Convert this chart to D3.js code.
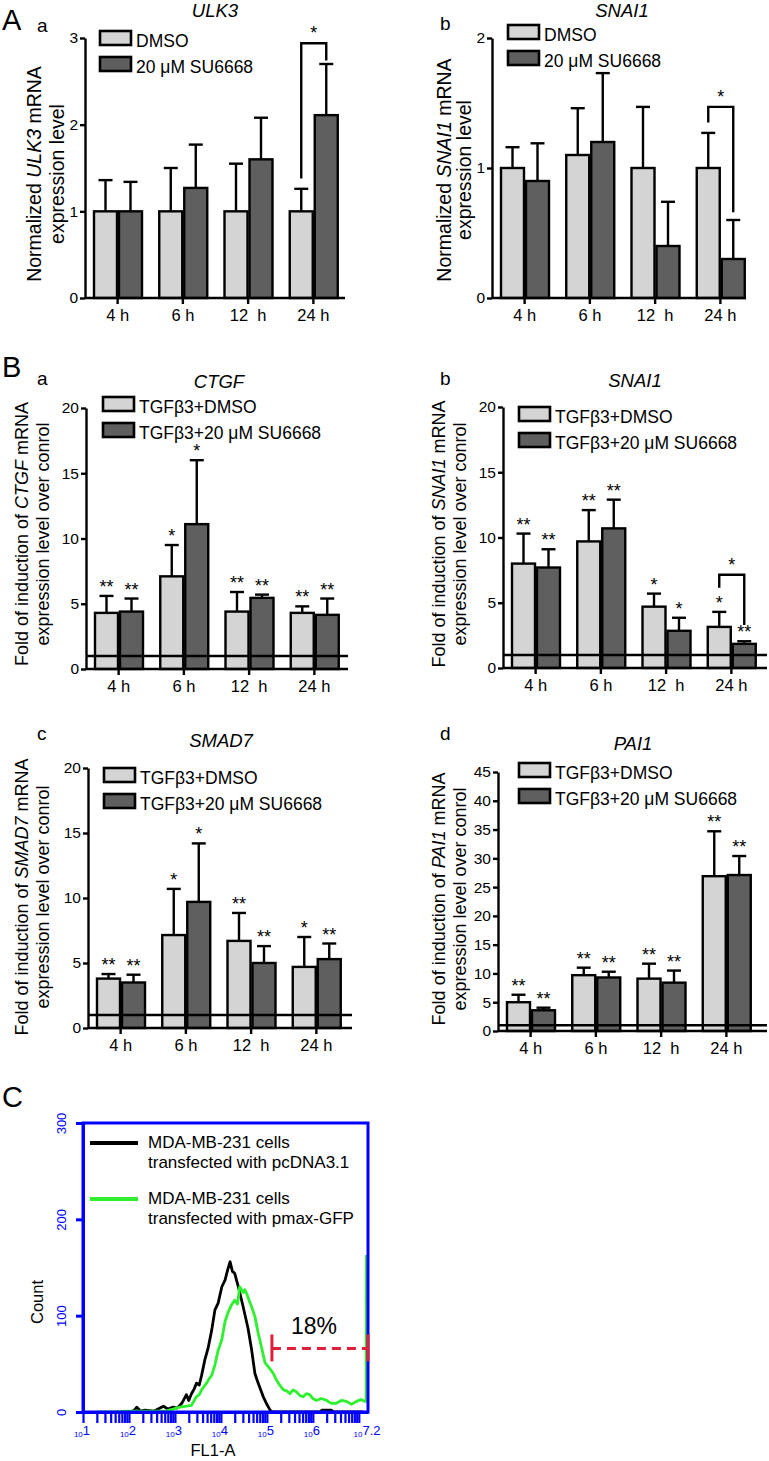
<!DOCTYPE html>
<html>
<head>
<meta charset="utf-8">
<script src="https://cdn.jsdelivr.net/npm/d3@7"></script>
<style>
  body { margin: 0; background: #fff; }
  svg { display: block; }
</style>
</head>
<body>
<div id="fig"></div>
<script>
// ---- data ----
const timePoints = ['4 h', '6 h', '12\u00a0\u00a0h', '24 h'];

// A a  ULK3
const ulk3Dmso = [1.0, 1.0, 1.0, 1.0];
const ulk3DmsoSd = [0.36, 0.50, 0.55, 0.26];
const ulk3Su = [1.0, 1.27, 1.60, 2.11];
const ulk3SuSd = [0.34, 0.50, 0.48, 0.59];

// A b  SNAI1
const snaiDmso = [1.0, 1.10, 1.0, 1.0];
const snaiDmsoSd = [0.16, 0.36, 0.47, 0.27];
const snaiSu = [0.90, 1.20, 0.40, 0.30];
const snaiSuSd = [0.29, 0.53, 0.34, 0.30];

// B a  CTGF
const ctgfDmso = [4.3, 7.1, 4.4, 4.3];
const ctgfDmsoSd = [1.3, 2.4, 1.5, 0.5];
const ctgfSu = [4.4, 11.1, 5.45, 4.15];
const ctgfSuSd = [1.0, 4.9, 0.25, 1.25];
const ctgfDmsoStars = ['**', '*', '**', '**'];
const ctgfSuStars = ['**', '*', '**', '**'];

// B b  SNAI1
const snaiTgfDmso = [8.0, 9.7, 4.7, 3.15];
const snaiTgfDmsoSd = [2.3, 2.4, 1.0, 1.15];
const snaiTgfSu = [7.7, 10.7, 2.85, 1.85];
const snaiTgfSuSd = [1.4, 2.2, 1.0, 0.2];
const snaiTgfDmsoStars = ['**', '**', '*', '*'];
const snaiTgfSuStars = ['**', '**', '*', '**'];

// B c  SMAD7
const smadDmso = [3.8, 7.15, 6.7, 4.7];
const smadDmsoSd = [0.35, 3.55, 2.15, 2.3];
const smadSu = [3.5, 9.7, 5.0, 5.3];
const smadSuSd = [0.6, 4.5, 1.3, 1.2];
const smadDmsoStars = ['**', '*', '**', '*'];
const smadSuStars = ['**', '*', '**', '**'];

// B d  PAI1
const paiDmso = [5.0, 9.7, 9.1, 26.9];
const paiDmsoSd = [1.3, 1.3, 2.6, 7.8];
const paiSu = [3.6, 9.3, 8.4, 27.1];
const paiSuSd = [0.45, 1.0, 2.1, 3.3];
const paiDmsoStars = ['**', '**', '**', '**'];
const paiSuStars = ['**', '**', '**', '**'];

// C  flow cytometry histogram (log10 FL1-A, count)
const blackLogFl1 = [2.05, 2.12, 2.17, 2.25, 2.35, 2.55, 2.75, 2.85, 2.96, 3.05,
  3.15, 3.25, 3.30, 3.36, 3.42, 3.47, 3.53, 3.58, 3.65, 3.72,
  3.80, 3.87, 3.94, 4.02, 4.09, 4.15, 4.20, 4.25, 4.30, 4.38,
  4.48, 4.59, 4.67, 4.74, 4.81, 4.92, 5.00, 5.07, 5.12, 6.15, 6.2, 6.4, 6.45, 7.1];
const blackCount = [0, 2, 5, 1, 2, 1, 6, 3, 5, 4,
  9, 18, 12, 19, 24, 30, 28, 38, 54, 66,
  85, 106, 113, 130, 137, 148, 156, 146, 144, 130,
  110, 87, 64, 40, 30, 16, 8, 2, 0, 0, 2, 2, 0, 0];
const greenLogFl1 = [1.30, 1.60, 2.00, 2.40, 2.80, 3.11, 3.25, 3.36, 3.42, 3.47,
  3.53, 3.58, 3.64, 3.69, 3.75, 3.80, 3.87, 3.94, 4.02, 4.09,
  4.16, 4.23, 4.30, 4.36, 4.41, 4.45, 4.49, 4.52, 4.56, 4.62,
  4.67, 4.74, 4.81, 4.88, 4.96, 5.03, 5.08, 5.14, 5.20, 5.25,
  5.31, 5.36, 5.43, 5.50, 5.57, 5.64, 5.72, 5.79, 5.86, 5.93,
  6.00, 6.08, 6.18, 6.30, 6.40, 6.51, 6.62, 6.73, 6.84, 6.95,
  7.05, 7.13, 7.16, 7.165];
const greenCount = [0, 0, 1, 1, 1, 5, 6, 7, 12, 16,
  18, 23, 27, 30, 35, 38, 49, 64, 75, 94,
  104, 111, 116, 112, 130, 127, 124, 127, 123, 115,
  109, 99, 82, 68, 51, 47, 44, 40, 34, 30,
  26, 23, 22, 19, 23, 21, 17, 16, 19, 18,
  14, 12, 14, 12, 9, 9, 12, 11, 8, 11,
  13, 11, 11, 163];
const countTicks = [0, 100, 200, 300];
const fl1Exponents = ['1', '2', '3', '4', '5', '6', '7.2'];
const gateLog = [5.11, 7.2];
const gateCount = 66;

// ---- drawing ----
const font = '"Liberation Sans", Arial, sans-serif';
const lightFill = '#d4d4d4';
const darkFill = '#5f5f5f';
const sw = 2.4;

const svg = d3.select('#fig').append('svg')
  .attr('width', 769).attr('height', 1461)
  .attr('font-family', font);

function yLabel(g, cx, cy, pre, gene, post, line2, size, gap) {
  const t1 = g.append('text')
    .attr('transform', `translate(${cx},${cy}) rotate(-90)`)
    .attr('text-anchor', 'middle').attr('font-size', size);
  t1.append('tspan').text(pre);
  t1.append('tspan').attr('font-style', 'italic').text(gene);
  t1.append('tspan').text(post);
  g.append('text')
    .attr('transform', `translate(${cx + gap},${cy}) rotate(-90)`)
    .attr('text-anchor', 'middle').attr('font-size', size)
    .text(line2);
}

function barPanel(p) {
  const g = svg.append('g');
  const y = d3.scaleLinear().domain([0, p.yMax]).range([p.y0, p.yTop]);
  const x = d3.scaleBand().domain(timePoints).range([p.x0, p.x0 + 261]);
  const xs = d3.scaleBand().domain(['ctrl', 'su']).range([9, 57]).paddingInner(0.08);

  const rows = timePoints.map((t, i) => ({
    t,
    series: [
      { k: 'ctrl', v: p.ctrl[i], sd: p.ctrlSd[i], star: p.ctrlStars ? p.ctrlStars[i] : null },
      { k: 'su', v: p.su[i], sd: p.suSd[i], star: p.suStars ? p.suStars[i] : null },
    ],
  }));

  const grp = g.selectAll('g.grp').data(rows).join('g')
    .attr('class', 'grp')
    .attr('transform', (d) => `translate(${x(d.t)},0)`);

  const cx = (d) => xs(d.k) + xs.bandwidth() / 2;

  // error bars (upper only)
  grp.selectAll('line.err').data((d) => d.series).join('line')
    .attr('class', 'err')
    .attr('x1', cx).attr('x2', cx)
    .attr('y1', (d) => y(d.v)).attr('y2', (d) => y(d.v + d.sd))
    .attr('stroke', '#000').attr('stroke-width', sw);
  grp.selectAll('line.cap').data((d) => d.series).join('line')
    .attr('class', 'cap')
    .attr('x1', (d) => cx(d) - 7).attr('x2', (d) => cx(d) + 7)
    .attr('y1', (d) => y(d.v + d.sd)).attr('y2', (d) => y(d.v + d.sd))
    .attr('stroke', '#000').attr('stroke-width', sw);

  grp.selectAll('rect').data((d) => d.series).join('rect')
    .attr('x', (d) => xs(d.k)).attr('width', xs.bandwidth())
    .attr('y', (d) => y(d.v)).attr('height', (d) => p.y0 - y(d.v))
    .attr('fill', (d) => (d.k === 'ctrl' ? lightFill : darkFill))
    .attr('stroke', '#000').attr('stroke-width', sw);

  grp.selectAll('text.star').data((d) => d.series.filter((s) => s.star)).join('text')
    .attr('class', 'star')
    .attr('x', cx).attr('y', (d) => y(d.v + d.sd) - 3)
    .attr('text-anchor', 'middle').attr('font-size', 18)
    .text((d) => d.star);

  // reference line at 1
  if (p.refLine) {
    g.append('line')
      .attr('x1', p.x0).attr('x2', p.xEnd)
      .attr('y1', y(1)).attr('y2', y(1))
      .attr('stroke', '#000').attr('stroke-width', sw);
  }

  // axes
  const ya = g.append('g').attr('transform', `translate(${p.x0},0)`)
    .call(d3.axisLeft(y).tickValues(p.ticks).tickFormat(d3.format('d'))
      .tickSize(5).tickSizeOuter(0).tickPadding(2));
  ya.attr('font-family', font).attr('font-size', 15.5);
  ya.selectAll('path,line').attr('stroke', '#000').attr('stroke-width', sw);

  const xa = g.append('g').attr('transform', `translate(0,${p.y0})`)
    .call(d3.axisBottom(x).tickSize(6).tickSizeOuter(0).tickPadding(5));
  xa.select('.domain').remove();
  xa.attr('font-family', font).attr('font-size', 16.5);
  xa.selectAll('line').attr('stroke', '#000').attr('stroke-width', sw);
  g.append('line')
    .attr('x1', p.x0).attr('x2', p.xEnd)
    .attr('y1', p.y0).attr('y2', p.y0)
    .attr('stroke', '#000').attr('stroke-width', sw);

  // significance bracket
  if (p.bracket) {
    const b = p.bracket;
    const xl = x(timePoints[b.group]) + cx({ k: 'ctrl' });
    const xr = x(timePoints[b.group]) + cx({ k: 'su' });
    g.append('path')
      .attr('d', `M${xl},${y(b.from)}V${y(b.top)}H${xr}V${y(b.to)}`)
      .attr('fill', 'none').attr('stroke', '#000').attr('stroke-width', sw);
    g.append('text')
      .attr('x', (xl + xr) / 2).attr('y', y(b.top) - 4)
      .attr('text-anchor', 'middle').attr('font-size', 18)
      .text('*');
  }

  // legend
  p.legend.forEach((lab, i) => {
    const ly = p.legendY + i * 26;
    g.append('rect')
      .attr('x', p.legendX).attr('y', ly).attr('width', 31).attr('height', 14)
      .attr('fill', i === 0 ? lightFill : darkFill)
      .attr('stroke', '#000').attr('stroke-width', 2.6);
    g.append('text')
      .attr('x', p.legendX + 36).attr('y', ly + 15.5)
      .attr('font-size', 17.5).text(lab);
  });

  // title + panel letters
  g.append('text')
    .attr('x', p.titleX).attr('y', p.titleY)
    .attr('text-anchor', 'middle').attr('font-size', 18.5)
    .attr('font-style', 'italic').text(p.gene);
  if (p.big) {
    g.append('text').attr('x', 2).attr('y', p.bigY).attr('font-size', 29).text(p.big);
  }
  g.append('text').attr('x', p.subX).attr('y', p.subY).attr('font-size', 19).text(p.sub);

  yLabel(g, p.labelX, p.labelCy, p.labelPre, p.gene, ' mRNA', p.labelLine2,
    p.labelSize, p.labelGap);
}

const legendA = ['DMSO', '20 \u03bcM SU6668'];
const legendB = ['TGF\u03b23+DMSO', 'TGF\u03b23+20 \u03bcM SU6668'];

barPanel({
  gene: 'ULK3', big: 'A', bigY: 30, sub: 'a', subX: 37, subY: 32,
  x0: 85, xEnd: 345, y0: 298, yTop: 38, yMax: 3, ticks: [0, 1, 2, 3],
  ctrl: ulk3Dmso, ctrlSd: ulk3DmsoSd, su: ulk3Su, suSd: ulk3SuSd,
  bracket: { group: 3, from: 1.38, top: 2.94, to: 2.74 },
  legend: legendA, legendX: 100, legendY: 31,
  titleX: 215, titleY: 17,
  labelX: 41, labelCy: 174, labelSize: 19.5, labelGap: 23,
  labelPre: 'Normalized ', labelLine2: 'expression level',
});
barPanel({
  gene: 'SNAI1', sub: 'b', subX: 440, subY: 30,
  x0: 492, xEnd: 746, y0: 298, yTop: 38, yMax: 2, ticks: [0, 1, 2],
  ctrl: snaiDmso, ctrlSd: snaiDmsoSd, su: snaiSu, suSd: snaiSuSd,
  bracket: { group: 3, from: 1.35, top: 1.47, to: 0.66 },
  legend: legendA, legendX: 508, legendY: 25,
  titleX: 622, titleY: 17,
  labelX: 451, labelCy: 170, labelSize: 19.5, labelGap: 20,
  labelPre: 'Normalized ', labelLine2: 'expression level',
});
barPanel({
  gene: 'CTGF', big: 'B', bigY: 377, sub: 'a', subX: 37, subY: 385,
  x0: 86, xEnd: 348, y0: 669, yTop: 408, yMax: 20, ticks: [0, 5, 10, 15, 20],
  ctrl: ctgfDmso, ctrlSd: ctgfDmsoSd, su: ctgfSu, suSd: ctgfSuSd,
  ctrlStars: ctgfDmsoStars, suStars: ctgfSuStars, refLine: true,
  legend: legendB, legendX: 103, legendY: 397,
  titleX: 219, titleY: 388,
  labelX: 28, labelCy: 534, labelSize: 18, labelGap: 21,
  labelPre: 'Fold of induction of ', labelLine2: 'expression level over conrol',
});
barPanel({
  gene: 'SNAI1', sub: 'b', subX: 440, subY: 385,
  x0: 503, xEnd: 767, y0: 668, yTop: 407, yMax: 20, ticks: [0, 5, 10, 15, 20],
  ctrl: snaiTgfDmso, ctrlSd: snaiTgfDmsoSd, su: snaiTgfSu, suSd: snaiTgfSuSd,
  ctrlStars: snaiTgfDmsoStars, suStars: snaiTgfSuStars, refLine: true,
  bracket: { group: 3, from: 6.15, top: 7.15, to: 3.3 },
  legend: legendB, legendX: 519, legendY: 407,
  titleX: 635, titleY: 387,
  labelX: 445, labelCy: 534, labelSize: 18, labelGap: 21,
  labelPre: 'Fold of induction of ', labelLine2: 'expression level over conrol',
});
barPanel({
  gene: 'SMAD7', sub: 'c', subX: 37, subY: 740,
  x0: 88, xEnd: 352, y0: 1028, yTop: 768, yMax: 20, ticks: [0, 5, 10, 15, 20],
  ctrl: smadDmso, ctrlSd: smadDmsoSd, su: smadSu, suSd: smadSuSd,
  ctrlStars: smadDmsoStars, suStars: smadSuStars, refLine: true,
  legend: legendB, legendX: 104, legendY: 768,
  titleX: 221, titleY: 747,
  labelX: 28, labelCy: 897, labelSize: 18, labelGap: 21,
  labelPre: 'Fold of induction of ', labelLine2: 'expression level over conrol',
});
barPanel({
  gene: 'PAI1', sub: 'd', subX: 440, subY: 740,
  x0: 498, xEnd: 767, y0: 1031, yTop: 772, yMax: 45, ticks: [0, 5, 10, 15, 20, 25, 30, 35, 40, 45],
  ctrl: paiDmso, ctrlSd: paiDmsoSd, su: paiSu, suSd: paiSuSd,
  ctrlStars: paiDmsoStars, suStars: paiSuStars, refLine: true,
  legend: legendB, legendX: 519, legendY: 763,
  titleX: 633, titleY: 750,
  labelX: 445, labelCy: 899, labelSize: 18, labelGap: 21,
  labelPre: 'Fold of induction of ', labelLine2: 'expression level over conrol',
});

// ---- panel C: flow cytometry ----
(function () {
  const blue = '#0000ff';
  const g = svg.append('g');
  const x = d3.scaleLog().domain([10, Math.pow(10, 7.2)]).range([83, 368]);
  const y = d3.scaleLinear().domain([0, 300]).range([1412, 1123]);
  const line = d3.line().x((d) => x(Math.pow(10, d[0]))).y((d) => y(d[1]));

  g.append('text').attr('x', 2).attr('y', 1107).attr('font-size', 29).text('C');

  g.append('path').datum(d3.zip(blackLogFl1, blackCount))
    .attr('d', line).attr('fill', 'none')
    .attr('stroke', '#000').attr('stroke-width', 2.8).attr('stroke-linejoin', 'round');
  g.append('path').datum(d3.zip(greenLogFl1, greenCount))
    .attr('d', line).attr('fill', 'none')
    .attr('stroke', '#2ef02e').attr('stroke-width', 2.8).attr('stroke-linejoin', 'round');

  // box
  g.append('rect')
    .attr('x', 83).attr('y', 1123).attr('width', 285).attr('height', 289)
    .attr('fill', 'none').attr('stroke', blue).attr('stroke-width', 3);

  // y axis
  const ya = g.append('g').attr('transform', 'translate(83,0)')
    .call(d3.axisLeft(y).tickValues(countTicks).tickSize(7).tickSizeOuter(0).tickFormat(''));
  ya.selectAll('path,line').attr('stroke', blue).attr('stroke-width', 3);
  ya.selectAll('.tick').append('text')
    .attr('transform', 'translate(-17,0) rotate(-90)')
    .attr('text-anchor', 'middle').attr('fill', blue)
    .attr('font-size', 13).attr('font-family', font)
    .text((d) => d);

  // x axis: log minor ticks
  const xa = g.append('g').attr('transform', 'translate(0,1412)')
    .call(d3.axisBottom(x).tickValues(x.ticks()).tickSize(11).tickSizeOuter(0).tickFormat(''));
  xa.selectAll('path,line').attr('stroke', blue).attr('stroke-width', 2.2);
  xa.select('.domain').attr('stroke-width', 3);

  fl1Exponents.forEach((e) => {
    const t = g.append('text')
      .attr('x', x(Math.pow(10, +e)) - 1).attr('y', 1435)
      .attr('text-anchor', 'middle').attr('fill', blue);
    t.append('tspan').attr('font-size', 8).attr('dy', 2).text('10');
    t.append('tspan').attr('font-size', 13).attr('dy', -2).text(e);
  });

  g.append('text').attr('x', 213).attr('y', 1456)
    .attr('text-anchor', 'middle').attr('font-size', 16.5).text('FL1-A');
  g.append('text').attr('transform', 'translate(43,1302) rotate(-90)')
    .attr('text-anchor', 'middle').attr('font-size', 16.5).text('Count');

  // gate
  const red = '#e0203a';
  const gx0 = x(Math.pow(10, gateLog[0]));
  const gx1 = x(Math.pow(10, gateLog[1]));
  const gy = y(gateCount);
  g.append('line').attr('x1', gx0).attr('x2', gx1).attr('y1', gy).attr('y2', gy)
    .attr('stroke', red).attr('stroke-width', 3).attr('stroke-dasharray', '9,6');
  [gx0, gx1].forEach((gx) => {
    g.append('line').attr('x1', gx).attr('x2', gx).attr('y1', gy - 14).attr('y2', gy + 13)
      .attr('stroke', red).attr('stroke-width', 3);
  });
  g.append('text').attr('x', 314).attr('y', 1334)
    .attr('text-anchor', 'middle').attr('font-size', 23).text('18%');

  // legend
  const leg = [
    { c: '#000', y: 1143, l1: 'MDA-MB-231 cells', l2: 'transfected with pcDNA3.1' },
    { c: '#2ef02e', y: 1199, l1: 'MDA-MB-231 cells', l2: 'transfected with pmax-GFP' },
  ];
  leg.forEach((d) => {
    g.append('line').attr('x1', 90).attr('x2', 138).attr('y1', d.y).attr('y2', d.y)
      .attr('stroke', d.c).attr('stroke-width', 4);
    g.append('text').attr('x', 148).attr('y', d.y + 5).attr('font-size', 17).text(d.l1);
    g.append('text').attr('x', 148).attr('y', d.y + 25).attr('font-size', 17).text(d.l2);
  });
})();
</script>
</body>
</html>
